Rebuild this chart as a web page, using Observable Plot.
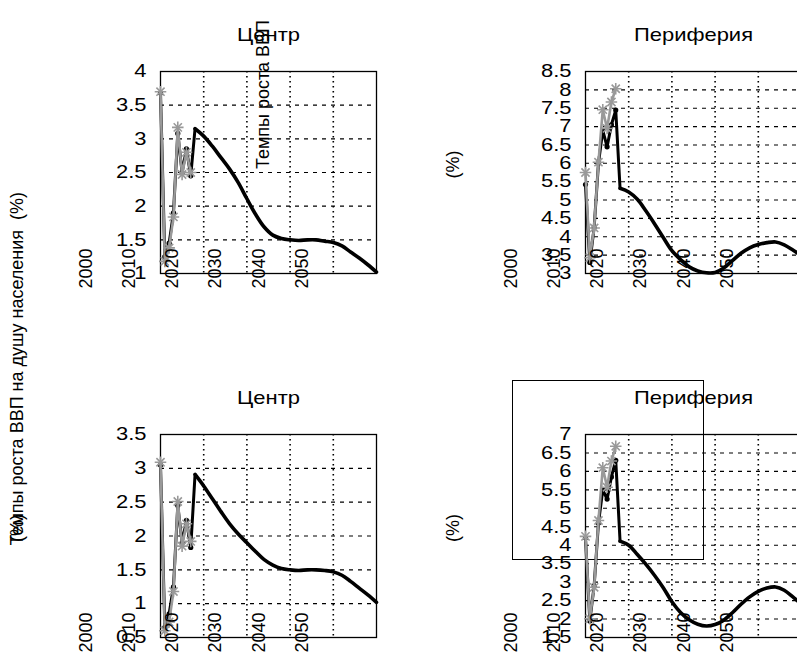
<!DOCTYPE html>
<html>
<head>
<meta charset="utf-8">
<script src="https://cdn.jsdelivr.net/npm/d3@7"></script>
<script src="https://cdn.jsdelivr.net/npm/@observablehq/plot@0.6"></script>
<style>
html, body { margin: 0; padding: 0; background: #fff; }
#chart { position: relative; width: 797px; height: 652px; overflow: hidden; background: #fff; font-family: "Liberation Sans", Arial, sans-serif; }
#chart svg { position: absolute; left: 0; top: 0; }
#key { position: absolute; left: 512px; top: 380px; width: 190px; height: 178px; border: 1px solid #000; }
</style>
</head>
<body>
<div id="chart"><div id="key"></div></div>
<script>
// ---- data ----
const earlyYears = [2020, 2021, 2022, 2023, 2024, 2025, 2026, 2027, 2028];
const smoothYears = [2028, 2030, 2032, 2034, 2036, 2038, 2040, 2042, 2044, 2046, 2048, 2050, 2052, 2054, 2056, 2058, 2060, 2062, 2064, 2066, 2068, 2070];
const xTickLabels = [2000, 2010, 2020, 2030, 2040, 2050];
const gridYears = [2030, 2040, 2050, 2060];

const titles = ["Центр", "Периферия", "Центр", "Периферия"];

// Top-left: Центр
const ticksTL = [1, 1.5, 2, 2.5, 3, 3.5, 4];
const grayTL = [3.70, 1.18, 1.38, 1.84, 3.17, 2.47, 2.80, 2.50];
const blackTL = [3.68, 1.25, 1.45, 1.90, 3.08, 2.50, 2.85, 2.45, 3.15];
const smoothTL = [3.15, 3.04, 2.89, 2.72, 2.55, 2.35, 2.11, 1.88, 1.69, 1.57, 1.52, 1.50, 1.49, 1.50, 1.50, 1.48, 1.46, 1.41, 1.32, 1.23, 1.13, 1.02];

// Top-right: Периферия
const ticksTR = [3, 3.5, 4, 4.5, 5, 5.5, 6, 6.5, 7, 7.5, 8, 8.5];
const grayTR = [5.75, 3.43, 4.24, 6.03, 7.46, 6.95, 7.67, 8.03];
const blackTR = [5.42, 3.30, 4.25, 6.00, 6.90, 6.45, 7.05, 7.45, 5.32];
const smoothTR = [5.32, 5.22, 5.02, 4.70, 4.35, 3.98, 3.62, 3.38, 3.18, 3.07, 3.02, 3.03, 3.15, 3.35, 3.55, 3.70, 3.79, 3.84, 3.86, 3.78, 3.64, 3.48];

// Bottom-left: Центр
const ticksBL = [0.5, 1, 1.5, 2, 2.5, 3, 3.5];
const grayBL = [3.09, 0.60, 0.73, 1.18, 2.51, 1.85, 2.18, 1.92];
const blackBL = [3.05, 0.65, 0.85, 1.25, 2.45, 1.90, 2.23, 1.83, 2.91];
const smoothBL = [2.91, 2.74, 2.55, 2.36, 2.18, 2.03, 1.90, 1.77, 1.65, 1.57, 1.52, 1.50, 1.49, 1.50, 1.50, 1.49, 1.47, 1.42, 1.33, 1.23, 1.13, 1.02];

// Bottom-right: Периферия
const ticksBR = [1.5, 2, 2.5, 3, 3.5, 4, 4.5, 5, 5.5, 6, 6.5, 7];
const grayBR = [4.24, 2.01, 2.86, 4.67, 6.10, 5.57, 6.28, 6.68];
const blackBR = [4.20, 1.95, 2.90, 4.60, 5.50, 5.25, 5.85, 6.30, 4.11];
const smoothBR = [4.11, 4.00, 3.75, 3.48, 3.18, 2.85, 2.47, 2.18, 1.98, 1.86, 1.81, 1.85, 1.97, 2.17, 2.40, 2.60, 2.75, 2.84, 2.87, 2.78, 2.60, 2.40];

const bigLabel = "Темпы роста ВВП на душу населения \u00a0(%)";
const innerLabel = "Темпы роста ВВП";
const unitLabel = "(%)";

// ---- drawing ----
const FS = 18;
const STRETCH = 1.22;

function panel(o) {
  const [L, T, R, B] = o.frame;
  const W = Math.max(797, R + 10);
  const H = 652;
  const gray = o.gray.map((v, i) => ({year: earlyYears[i], v}));
  const early = o.black.map((v, i) => ({year: earlyYears[i], v}));
  const smooth = o.smooth.map((v, i) => ({year: smoothYears[i], v}));
  const inner = o.ticks.slice(1, -1);
  const marks = [
    Plot.ruleY(inner, {stroke: "#000", strokeWidth: 1.1, strokeDasharray: "4,5"}),
    Plot.ruleX(gridYears, {stroke: "#000", strokeWidth: 1.6, strokeDasharray: "1.6,3.4"}),
    Plot.frame({stroke: "#000", strokeWidth: 1.3}),
    Plot.line(early, {x: "year", y: "v", stroke: "#000", strokeWidth: 3}),
    Plot.line(smooth, {x: "year", y: "v", stroke: "#000", strokeWidth: 3.6, curve: "catmull-rom"}),
    Plot.dot(early.slice(0, 8), {x: "year", y: "v", r: 2.6, fill: "#000"}),
    Plot.line(gray, {x: "year", y: "v", stroke: "#999", strokeWidth: 2.6}),
    Plot.dot(gray, {x: "year", y: "v", symbol: "plus", r: 3.8, stroke: "#999", strokeWidth: 1.6}),
    Plot.dot(gray, {x: "year", y: "v", symbol: "times", r: 3.8, stroke: "#999", strokeWidth: 1.6}),
    Plot.text(o.ticks, {y: d => d, text: d => String(d), frameAnchor: "left", dx: -14, textAnchor: "end", lineAnchor: "middle", fontSize: FS}),
    Plot.text(xTickLabels, {x: d => d, text: d => String(d), frameAnchor: "bottom", dx: 12, dy: 15, rotate: -90, textAnchor: "start", lineAnchor: "middle", fontSize: FS}),
    Plot.text([o.title], {text: d => d, frameAnchor: "top", dy: -36, lineAnchor: "middle", fontSize: FS}),
    ...(o.extra || [])
  ];
  const svg = Plot.plot({
    width: W, height: H,
    marginLeft: L, marginRight: W - R, marginTop: T, marginBottom: H - B,
    x: {domain: [2020, 2070], axis: null},
    y: {domain: o.yDomain, axis: null},
    style: {background: "transparent", overflow: "visible", maxWidth: "none", fontFamily: "'Liberation Sans', Arial, sans-serif", color: "#000"},
    marks
  });
  svg.querySelectorAll("text").forEach(t => {
    const tr = t.getAttribute("transform") || "";
    if (!/rotate/.test(tr)) {
      const x = +(t.getAttribute("x") || 0);
      t.setAttribute("transform", `${tr} translate(${x},0) scale(${STRETCH},1) translate(${-x},0)`.trim());
    }
  });
  document.getElementById("chart").appendChild(svg);
}

panel({
  frame: [160, 71, 376, 273], yDomain: [1, 4], ticks: ticksTL,
  gray: grayTL, black: blackTL, smooth: smoothTL, title: titles[0],
  extra: [
    Plot.text([innerLabel], {text: d => d, frameAnchor: "top", dx: -5, dy: 23, rotate: -90, textAnchor: "middle", lineAnchor: "middle", fontSize: FS}),
    Plot.text([bigLabel], {text: d => d, frameAnchor: "top-left", dx: -143, dy: 474, rotate: -90, textAnchor: "start", lineAnchor: "middle", fontSize: FS})
  ]
});
panel({
  frame: [585, 71, 801, 273], yDomain: [3, 8.5], ticks: ticksTR,
  gray: grayTR, black: blackTR, smooth: smoothTR, title: titles[1],
  extra: [
    Plot.text([unitLabel], {text: d => d, frameAnchor: "left", dx: -132, dy: -8, rotate: -90, textAnchor: "middle", lineAnchor: "middle", fontSize: FS})
  ]
});
panel({
  frame: [160, 434, 376, 637], yDomain: [0.5, 3.5], ticks: ticksBL,
  gray: grayBL, black: blackBL, smooth: smoothBL, title: titles[2],
  extra: [
    Plot.text([unitLabel], {text: d => d, frameAnchor: "left", dx: -143, dy: -8, rotate: -90, textAnchor: "middle", lineAnchor: "middle", fontSize: FS})
  ]
});
panel({
  frame: [585, 434, 801, 637], yDomain: [1.5, 7], ticks: ticksBR,
  gray: grayBR, black: blackBR, smooth: smoothBR, title: titles[3],
  extra: [
    Plot.text([unitLabel], {text: d => d, frameAnchor: "left", dx: -132, dy: -8, rotate: -90, textAnchor: "middle", lineAnchor: "middle", fontSize: FS})
  ]
});
</script>
</body>
</html>
